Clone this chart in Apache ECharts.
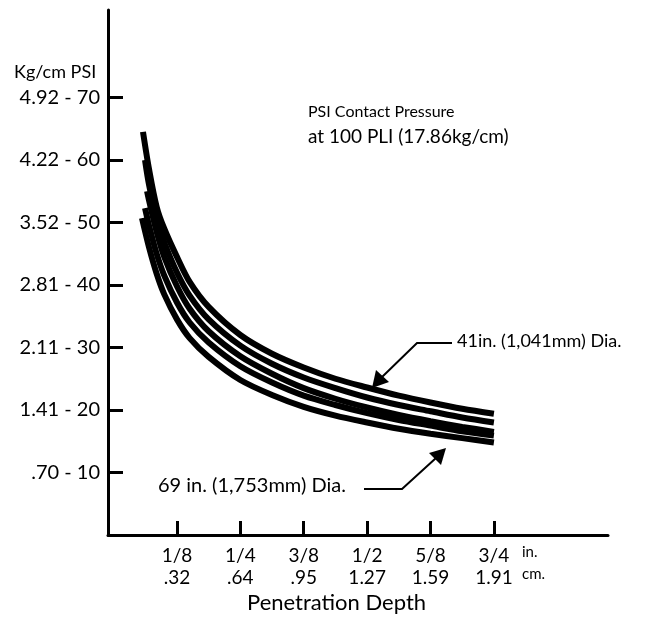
<!DOCTYPE html>
<html>
<head>
<meta charset="utf-8">
<script src="https://cdn.jsdelivr.net/npm/echarts@6/dist/echarts.min.js"></script>
<style>
html,body{margin:0;padding:0;background:#fff;}
#chart{width:652px;height:622px;}
</style>
</head>
<body>
<div id="chart"></div>
<script>
// ---- data ----
const depthIn = [0.07, 0.085, 0.10, 0.125, 0.15, 0.1875, 0.25, 0.3125, 0.375, 0.4375, 0.5, 0.5625, 0.625, 0.6875, 0.75]; // inches
const curveStartDepth = [0.058, 0.062, 0.066, 0.062, 0.056];
const curveStartPsi   = [64.5, 60.0, 55.0, 52.3, 50.7];
const psi41  = [58.5, 52.5, 49.0, 44.5, 40.5, 36.5, 32.0, 29.0, 26.8, 25.0, 23.6, 22.3, 21.2, 20.2, 19.4];
const psiB   = [56.0, 50.5, 46.8, 42.0, 38.3, 34.5, 30.3, 27.4, 25.2, 23.5, 22.0, 20.8, 19.8, 18.8, 18.0];
const psiC   = [53.5, 48.5, 44.5, 39.8, 36.2, 32.6, 28.6, 25.8, 23.5, 21.8, 20.4, 19.2, 18.2, 17.3, 16.5];
const psiD   = [49.5, 45.0, 41.5, 37.2, 34.0, 30.8, 27.0, 24.4, 22.3, 20.8, 19.5, 18.4, 17.5, 16.6, 15.9];
const psi69  = [46.0, 41.8, 38.5, 34.5, 31.5, 28.5, 24.8, 22.4, 20.5, 19.1, 18.0, 17.0, 16.2, 15.5, 14.8];
const curves = [psi41, psiB, psiC, psiD, psi69];

const xTickValues = [0.125, 0.25, 0.375, 0.5, 0.625, 0.75];
const xTickInch = ['1/8', '1/4', '3/8', '1/2', '5/8', '3/4'];
const xTickCm   = ['.32', '.64', '.95', '1.27', '1.59', '1.91'];
const yTickValues = [10, 20, 30, 40, 50, 60, 70];
const yTickKg = ['.70', '1.41', '2.11', '2.81', '3.52', '4.22', '4.92'];

const FONT = 'Lato';

const series = curves.map((vals, i) => ({
  type: 'line',
  data: [[curveStartDepth[i], curveStartPsi[i]]].concat(depthIn.filter(d => d > curveStartDepth[i]).map(d => [d, vals[depthIn.indexOf(d)]])),
  showSymbol: false,
  smooth: 0.3,
  lineStyle: { color: '#000', width: 6, cap: 'butt' },
  silent: true,
  z: 3
}));

const chart = echarts.init(document.getElementById('chart'), null, { renderer: 'canvas' });
chart.setOption({
  animation: false,
  backgroundColor: '#fff',
  grid: { left: 108, right: 44, top: 10, bottom: 87, containLabel: false },
  xAxis: {
    type: 'value',
    min: -0.011,
    max: 0.975,
    axisLine: { show: true, onZero: false, lineStyle: { color: '#000', width: 3 } },
    axisTick: { show: true, inside: true, length: 14, customValues: xTickValues, lineStyle: { color: '#000', width: 3 } },
    axisLabel: {
      show: true, margin: 10, customValues: xTickValues,
      color: '#000', fontFamily: FONT, fontSize: 19, lineHeight: 22,
      formatter: function (v) {
        const i = xTickValues.findIndex(t => Math.abs(t - v) < 1e-6);
        return i < 0 ? '' : xTickInch[i] + '\n' + xTickCm[i];
      }
    },
    splitLine: { show: false }
  },
  yAxis: {
    type: 'value',
    min: 0,
    max: 84,
    axisLine: { show: true, onZero: false, lineStyle: { color: '#000', width: 3 } },
    axisTick: { show: true, inside: true, length: 15, customValues: yTickValues, lineStyle: { color: '#000', width: 3 } },
    axisLabel: {
      show: true, margin: 8, customValues: yTickValues,
      color: '#000', fontFamily: FONT, fontSize: 20,
      formatter: function (v) {
        const i = yTickValues.indexOf(Math.round(v));
        return i < 0 ? '' : yTickKg[i] + ' - ' + v;
      }
    },
    splitLine: { show: false }
  },
  series: series,
  graphic: [
    { type: 'text', left: 14, top: 63, style: { text: 'Kg/cm PSI', font: '18px ' + FONT, fill: '#000' } },
    { type: 'text', left: 308, top: 104, style: { text: 'PSI Contact Pressure', font: '16px ' + FONT, fill: '#000' } },
    { type: 'text', left: 308, top: 127, style: { text: 'at 100 PLI (17.86kg/cm)', font: '19px ' + FONT, fill: '#000' } },
    { type: 'text', left: 522, top: 545, style: { text: 'in.', font: '15px ' + FONT, fill: '#000' } },
    { type: 'text', left: 522, top: 567, style: { text: 'cm.', font: '15px ' + FONT, fill: '#000' } },
    { type: 'text', left: 247, top: 592, style: { text: 'Penetration Depth', font: '22px ' + FONT, fill: '#000' } },
    // 41in arrow
    { type: 'text', left: 457, top: 332, style: { text: '41in. (1,041mm) Dia.', font: '18px ' + FONT, fill: '#000' } },
    { type: 'polyline', shape: { points: [[452, 343], [417, 343], [381, 378]] }, style: { stroke: '#000', lineWidth: 2, fill: null } },
    { type: 'polygon', shape: { points: [[372, 388], [376, 370], [389, 382]] }, style: { fill: '#000' } },
    // 69in arrow
    { type: 'text', left: 158, top: 476, style: { text: '69 in. (1,753mm) Dia.', font: '20px ' + FONT, fill: '#000' } },
    { type: 'polyline', shape: { points: [[364, 489], [402, 489], [436, 458]] }, style: { stroke: '#000', lineWidth: 2, fill: null } },
    { type: 'polygon', shape: { points: [[446, 448], [441, 465], [429, 453]] }, style: { fill: '#000' } }
  ]
});
</script>
</body>
</html>
